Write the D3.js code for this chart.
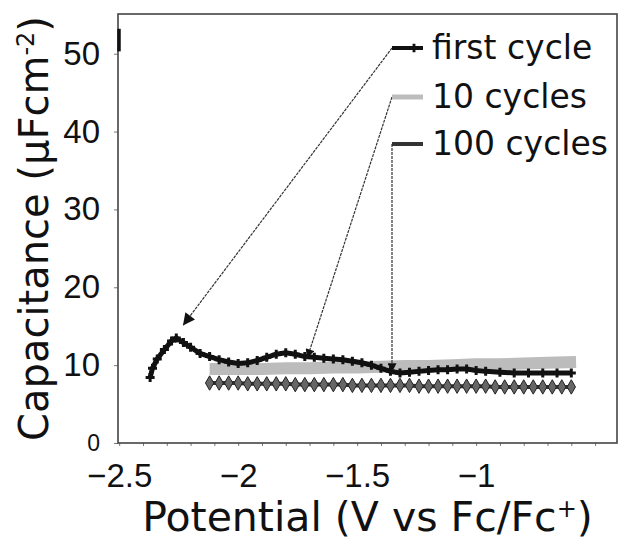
<!DOCTYPE html>
<html>
<head>
<meta charset="utf-8">
<script src="https://cdn.jsdelivr.net/npm/d3@7"></script>
<style>
  html, body { margin: 0; padding: 0; background: #fff; }
  svg { display: block; font-family: "DejaVu Sans", Verdana, sans-serif; }
</style>
</head>
<body>
<svg id="chart" width="619" height="545"></svg>
<script>
// first cycle
const potentialFirst = [-2.37, -2.36, -2.34, -2.31, -2.28, -2.26, -2.23, -2.20, -2.16, -2.12,
  -2.08, -2.04, -2.00, -1.96, -1.92, -1.88, -1.84, -1.80, -1.76, -1.72,
  -1.68, -1.64, -1.60, -1.56, -1.52, -1.48, -1.44, -1.40, -1.36, -1.32,
  -1.28, -1.24, -1.20, -1.16, -1.12, -1.08, -1.04, -1.00, -0.96, -0.90,
  -0.84, -0.78, -0.72, -0.66, -0.60];
const capFirst = [8.4, 9.6, 10.8, 12.0, 13.1, 13.5, 12.9, 12.3, 11.5, 11.1,
  10.7, 10.4, 10.2, 10.3, 10.6, 11.0, 11.4, 11.6, 11.4, 11.1,
  11.0, 10.9, 10.8, 10.7, 10.5, 10.3, 10.0, 9.6, 9.2, 9.0,
  9.1, 9.2, 9.3, 9.4, 9.4, 9.5, 9.5, 9.3, 9.2, 9.1,
  9.0, 9.0, 9.0, 9.0, 9.0];

// 10 cycles
const potential10 = [-2.12, -2.0, -1.9, -1.8, -1.7, -1.6, -1.5, -1.4, -1.3, -1.2,
  -1.1, -1.0, -0.9, -0.8, -0.7, -0.58];
const cap10 = [9.5, 9.5, 9.5, 9.6, 9.6, 9.7, 9.7, 9.8, 9.9, 9.9,
  10.0, 10.1, 10.1, 10.2, 10.3, 10.4];

// 100 cycles
const potential100 = [-2.12, -2.08, -2.04, -2.00, -1.96, -1.92, -1.88, -1.84, -1.80, -1.76,
  -1.72, -1.68, -1.64, -1.60, -1.56, -1.52, -1.48, -1.44, -1.40, -1.36,
  -1.32, -1.28, -1.24, -1.20, -1.16, -1.12, -1.08, -1.04, -1.00, -0.96,
  -0.92, -0.88, -0.84, -0.80, -0.76, -0.72, -0.68, -0.64, -0.60];
const cap100 = [7.7, 7.7, 7.7, 7.7, 7.6, 7.6, 7.6, 7.6, 7.6, 7.5,
  7.5, 7.5, 7.5, 7.5, 7.5, 7.4, 7.4, 7.4, 7.4, 7.4,
  7.4, 7.4, 7.3, 7.3, 7.3, 7.3, 7.3, 7.3, 7.3, 7.3,
  7.2, 7.2, 7.2, 7.2, 7.2, 7.2, 7.2, 7.2, 7.2];

const xTickLabels = [-2.5, -2, -1.5, -1];
const yTickLabels = [0, 10, 20, 30, 40, 50];
const legendLabels = ["first cycle", "10 cycles", "100 cycles"];
// where each legend leader points, in data units
const leaderTargets = [[-2.232, 15.1], [-1.71, 10.9], [-1.349, 9.1]];

const svg = d3.select("#chart");
const box = { left: 118, right: 617, top: 14, bottom: 443 };

const x = d3.scaleLinear().domain([-2.505, -0.408]).range([box.left, box.right]);
const y = d3.scaleLinear().domain([0, 55.1]).range([box.bottom, box.top]);

const zip = (xs, ys) => xs.map((v, i) => [v, ys[i]]);
const line = d3.line().x(d => x(d[0])).y(d => y(d[1]));

// arrow heads
const defs = svg.append("defs");
defs.append("marker")
    .attr("id", "arrow")
    .attr("viewBox", "0 0 10 10")
    .attr("refX", 10).attr("refY", 5)
    .attr("markerWidth", 15).attr("markerHeight", 12)
    .attr("markerUnits", "userSpaceOnUse")
    .attr("orient", "auto")
    .append("path").attr("d", "M0,0L10,5L0,10Z").attr("fill", "#111");
defs.append("marker")
    .attr("id", "arrowSmall")
    .attr("viewBox", "0 0 10 10")
    .attr("refX", 10).attr("refY", 5)
    .attr("markerWidth", 11).attr("markerHeight", 9)
    .attr("markerUnits", "userSpaceOnUse")
    .attr("orient", "auto")
    .append("path").attr("d", "M0,0L10,5L0,10Z").attr("fill", "#111");

// axes
const xAxis = d3.axisBottom(x)
    .tickValues(d3.range(-25, -4).map(d => d / 10))
    .tickSize(3)
    .tickPadding(18)
    .tickFormat(d => xTickLabels.some(t => Math.abs(t - d) < 1e-6) ? d3.format("")(d) : "");
const gx = svg.append("g")
    .attr("transform", `translate(0,${box.bottom})`)
    .call(xAxis);
gx.select(".domain").remove();
gx.selectAll("line").attr("stroke", "#777");
gx.selectAll("text").style("font-size", "33px").attr("fill", "#111");

const yAxis = d3.axisLeft(y).tickValues(yTickLabels).tickSize(4).tickPadding(14);
const gy = svg.append("g")
    .attr("transform", `translate(${box.left},0)`)
    .call(yAxis);
gy.select(".domain").remove();
gy.selectAll("line").attr("stroke", "#777");
gy.selectAll("text").style("font-size", d => d === 0 ? "23px" : "33px").attr("fill", "#111");

// frame
svg.append("rect")
    .attr("x", box.left).attr("y", box.top)
    .attr("width", box.right - box.left).attr("height", box.bottom - box.top)
    .attr("fill", "none").attr("stroke", "#444").attr("stroke-width", 1.6);
svg.append("line")
    .attr("x1", box.left + 1).attr("x2", box.left + 1)
    .attr("y1", y(53.2)).attr("y2", y(50.3))
    .attr("stroke", "#111").attr("stroke-width", 3.5);

// series
const data10 = zip(potential10, cap10);
svg.append("path").datum(data10)
    .attr("d", line)
    .attr("fill", "none").attr("stroke", "#bcbcbc").attr("stroke-width", 12);

const data100 = zip(potential100, cap100);
svg.append("path").datum(data100)
    .attr("d", line)
    .attr("fill", "none").attr("stroke", "#333").attr("stroke-width", 4);
svg.append("g").selectAll("path")
    .data(data100).join("path")
    .attr("transform", d => `translate(${x(d[0])},${y(d[1])})`)
    .attr("d", d3.symbol(d3.symbolDiamond, 60))
    .attr("fill", "#666").attr("stroke", "#222").attr("stroke-width", 1);

const dataFirst = zip(potentialFirst, capFirst);
svg.append("path").datum(dataFirst)
    .attr("d", line)
    .attr("fill", "none").attr("stroke", "#111").attr("stroke-width", 5);
svg.append("g").selectAll("path")
    .data(dataFirst).join("path")
    .attr("transform", d => `translate(${x(d[0])},${y(d[1])})`)
    .attr("d", d3.symbol(d3.symbolCross, 45))
    .attr("fill", "#111");

// legend and leader lines
const legendX = 392, legendTextX = 432;
const legendRows = [48, 97, 144];

const legend = svg.append("g");
legendLabels.forEach((label, i) => {
    const ly = legendRows[i];
    const [tx, ty] = leaderTargets[i];
    if (i === 2) {
        legend.append("path")
            .attr("d", `M${legendX},${ly}V${y(ty)}`)
            .attr("fill", "none").attr("stroke", "#333").attr("stroke-width", 1.2)
            .attr("stroke-dasharray", "3,1")
            .attr("marker-end", "url(#arrowSmall)");
    } else {
        legend.append("line")
            .attr("x1", legendX).attr("y1", ly)
            .attr("x2", x(tx)).attr("y2", y(ty))
            .attr("stroke", "#333").attr("stroke-width", 1.2)
            .attr("stroke-dasharray", "3,1")
            .attr("marker-end", i === 0 ? "url(#arrow)" : "url(#arrowSmall)");
    }
    const sample = legend.append("line")
        .attr("x1", legendX).attr("x2", legendX + 31)
        .attr("y1", ly).attr("y2", ly);
    if (i === 0) sample.attr("stroke", "#111").attr("stroke-width", 4);
    if (i === 1) sample.attr("stroke", "#bdbdbd").attr("stroke-width", 5);
    if (i === 2) sample.attr("stroke", "#333").attr("stroke-width", 4);
    if (i === 0) {
        legend.append("path")
            .attr("transform", `translate(${legendX + 22},${ly})`)
            .attr("d", d3.symbol(d3.symbolCross, 40)).attr("fill", "#111");
    }
    legend.append("text")
        .attr("x", legendTextX).attr("y", ly + 11)
        .style("font-size", "33px").attr("fill", "#111")
        .text(label);
});

// axis titles
const xTitle = svg.append("text")
    .attr("x", (142 + 593) / 2).attr("y", 531)
    .attr("text-anchor", "middle")
    .style("font-size", "41px").attr("fill", "#111");
xTitle.append("tspan").text("Potential (V vs Fc/Fc");
xTitle.append("tspan").attr("baseline-shift", "super").style("font-size", "24px").text("+");
xTitle.append("tspan").text(")");

const yTitle = svg.append("text")
    .attr("transform", `translate(48,${(box.top + box.bottom) / 2}) rotate(-90)`)
    .attr("text-anchor", "middle")
    .style("font-size", "40px").attr("fill", "#111");
yTitle.append("tspan").text("Capacitance (μFcm");
yTitle.append("tspan").attr("baseline-shift", "super").style("font-size", "24px").text("-2");
yTitle.append("tspan").text(")");
</script>
</body>
</html>
